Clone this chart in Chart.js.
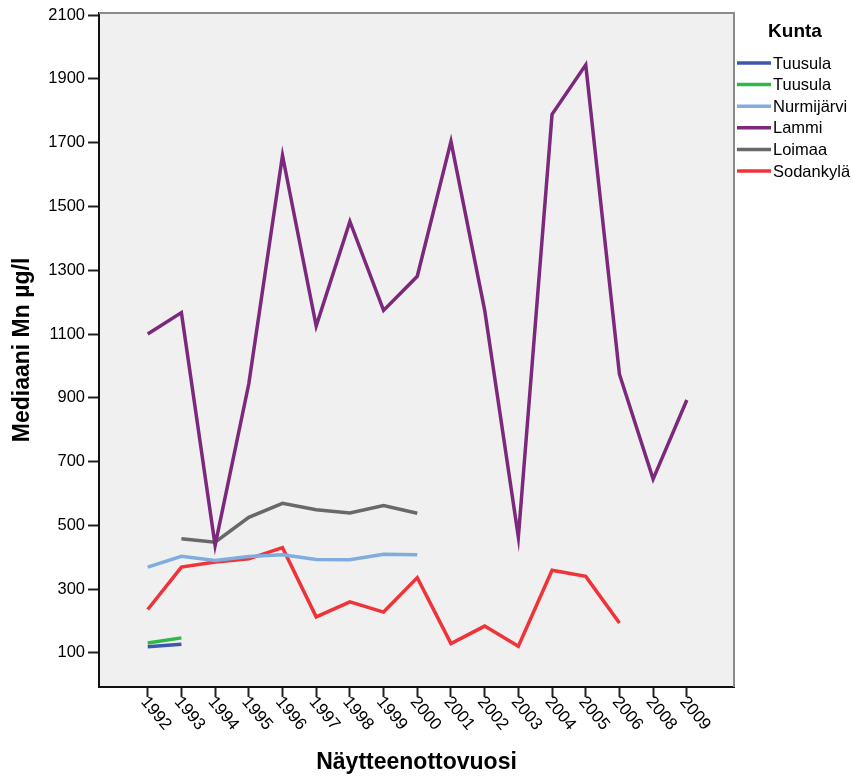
<!DOCTYPE html>
<html>
<head>
<meta charset="utf-8">
<script src="https://cdn.jsdelivr.net/npm/chart.js@4/dist/chart.umd.min.js"></script>
<style>
  body { margin: 0; background: #fff; }
  #wrap { width: 854px; height: 776px; }
</style>
</head>
<body>
<div id="wrap"><canvas id="chart" width="854" height="776"></canvas></div>
<script>
// vuodet (2007 puuttuu)
const years = ['1992', '1993', '1994', '1995', '1996', '1997', '1998', '1999', '2000',
               '2001', '2002', '2003', '2004', '2005', '2006', '2008', '2009'];
const yTicks = [100, 300, 500, 700, 900, 1100, 1300, 1500, 1700, 1900, 2100];

const tuusulaBlue = [119, 127];
const tuusulaGreen = [131, 147];
const nurmijarvi = [369, 403, 390, 402, 408, 393, 392, 409, 408];
const lammi = [1100, 1167, 437, 944, 1660, 1125, 1453, 1174, 1281, 1704, 1175, 463, 1789, 1944, 974, 645, 893];
const loimaa = [null, 458, 447, 525, 569, 549, 539, 562, 538];
const sodankyla = [236, 369, 385, 395, 430, 213, 260, 228, 336, 129, 184, 121, 359, 340, 194];

const toPoints = (arr) => arr.map((v, i) => ({ x: i, y: v }));

function line(label, values, color) {
    return {
        label: label,
        data: toPoints(values),
        borderColor: color,
        backgroundColor: color,
        borderWidth: 3.5,
        pointRadius: 0,
        tension: 0,
        fill: false
    };
}

Chart.defaults.font.family = 'Arial, "Liberation Sans", sans-serif';
Chart.defaults.color = '#000';

// harmaa tausta ja kehys kuva-alueelle
const plotFrame = {
    id: 'plotFrame',
    beforeDraw(chart) {
        const { ctx, chartArea: a } = chart;
        ctx.save();
        ctx.fillStyle = '#f0f0f0';
        ctx.fillRect(a.left, a.top, a.right - a.left, a.bottom - a.top);
        ctx.restore();
    },
    afterDraw(chart) {
        const { ctx, chartArea: a } = chart;
        ctx.save();
        ctx.strokeStyle = '#8a8a8a';
        ctx.lineWidth = 2;
        ctx.beginPath();
        ctx.moveTo(a.left, a.top);
        ctx.lineTo(a.right, a.top);
        ctx.lineTo(a.right, a.bottom);
        ctx.stroke();
        ctx.restore();
    }
};

// vinot vuosiluvut x-akselille
const yearLabels = {
    id: 'yearLabels',
    afterDraw(chart) {
        const { ctx } = chart;
        const xs = chart.scales.x;
        ctx.save();
        ctx.font = '17px Arial, "Liberation Sans", sans-serif';
        ctx.fillStyle = '#000';
        ctx.textAlign = 'left';
        ctx.textBaseline = 'middle';
        xs.ticks.forEach((t) => {
            const px = xs.getPixelForValue(t.value);
            ctx.save();
            ctx.translate(px - 4, chart.chartArea.bottom + 12);
            ctx.rotate(50 * Math.PI / 180);
            ctx.fillText(years[t.value], 0, 0);
            ctx.restore();
        });
        ctx.restore();
    }
};

// selite oikealle
const sideLegend = {
    id: 'sideLegend',
    afterDraw(chart) {
        const { ctx } = chart;
        const x0 = chart.chartArea.right + 3;
        ctx.save();
        ctx.fillStyle = '#000';
        ctx.textBaseline = 'middle';
        ctx.font = 'bold 19px Arial, "Liberation Sans", sans-serif';
        ctx.textAlign = 'center';
        ctx.fillText('Kunta', 795, 32);
        ctx.font = '16.5px Arial, "Liberation Sans", sans-serif';
        ctx.textAlign = 'left';
        chart.data.datasets.forEach((ds, i) => {
            const y = 63 + i * 21.6;
            ctx.strokeStyle = ds.borderColor;
            ctx.lineWidth = 3.5;
            ctx.beginPath();
            ctx.moveTo(x0, y);
            ctx.lineTo(x0 + 34, y);
            ctx.stroke();
            ctx.fillText(ds.label, x0 + 36, y + 1);
        });
        ctx.restore();
    }
};

new Chart(document.getElementById('chart'), {
    type: 'line',
    data: {
        datasets: [
            line('Tuusula', tuusulaBlue, '#3e58ac'),
            line('Tuusula', tuusulaGreen, '#2eb848'),
            line('Nurmijärvi', nurmijarvi, '#7fadde'),
            line('Lammi', lammi, '#7c287d'),
            line('Loimaa', loimaa, '#686868'),
            line('Sodankylä', sodankyla, '#ef3338')
        ]
    },
    options: {
        responsive: false,
        animation: false,
        devicePixelRatio: 1,
        layout: { padding: { top: 11, right: 120, left: 0, bottom: 0 } },
        plugins: {
            legend: { display: false },
            tooltip: { enabled: false }
        },
        scales: {
            x: {
                type: 'linear',
                min: -1.446,
                max: 17.40,
                afterBuildTicks: (scale) => {
                    scale.ticks = years.map((y, i) => ({ value: i }));
                },
                afterFit: (scale) => { scale.height = 89; },
                ticks: { display: false },
                grid: {
                    drawOnChartArea: false,
                    drawTicks: true,
                    tickLength: 10,
                    tickWidth: 2,
                    tickColor: '#222'
                },
                border: { color: '#111', width: 2 },
                title: {
                    display: true,
                    text: 'Näytteenottovuosi',
                    font: { size: 23, weight: 'bold', lineHeight: 1 },
                    padding: { top: 0, bottom: 2 }
                }
            },
            y: {
                min: -7,
                max: 2107,
                afterBuildTicks: (scale) => {
                    scale.ticks = yTicks.map((v) => ({ value: v }));
                },
                afterFit: (scale) => { scale.width = 99; },
                ticks: {
                    font: { size: 16.5 },
                    padding: 3,
                    callback: (v) => String(v)
                },
                grid: {
                    drawOnChartArea: false,
                    drawTicks: true,
                    tickLength: 11,
                    tickWidth: 2,
                    tickColor: '#222'
                },
                border: { color: '#111', width: 2 },
                title: {
                    display: true,
                    text: 'Mediaani Mn µg/l',
                    font: { size: 23, weight: 'bold', lineHeight: 1 },
                    padding: { top: 11, bottom: 0 }
                }
            }
        }
    },
    plugins: [plotFrame, yearLabels, sideLegend]
});
</script>
</body>
</html>
